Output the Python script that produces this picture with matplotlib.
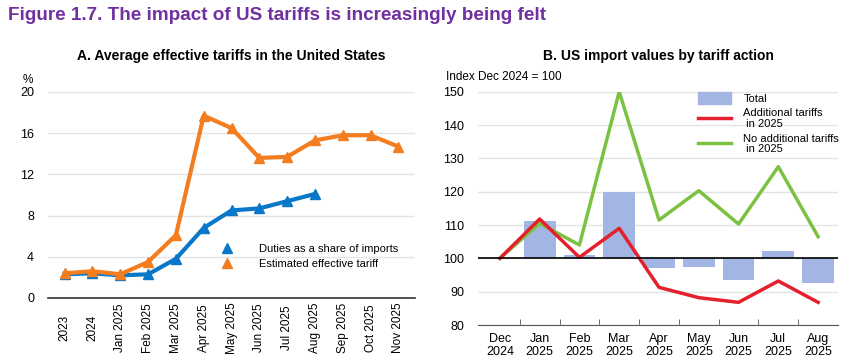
import matplotlib.pyplot as plt
import matplotlib.patches as mpatches
from matplotlib.lines import Line2D
import numpy as np

# Panel A data
months_a = ['2023', '2024', 'Jan 2025', 'Feb 2025', 'Mar 2025', 'Apr 2025', 'May 2025',
            'Jun 2025', 'Jul 2025', 'Aug 2025', 'Sep 2025', 'Oct 2025', 'Nov 2025']
duties_share = [2.3, 2.4, 2.2, 2.3, 3.8, 6.8, 8.5, 8.7, 9.4, 10.1]
effective_tariff = [2.4, 2.6, 2.3, 3.5, 6.1, 17.7, 16.5, 13.6, 13.7, 15.3, 15.8, 15.8, 14.7]

# Panel B data
months_b = ['Dec\n2024', 'Jan\n2025', 'Feb\n2025', 'Mar\n2025', 'Apr\n2025', 'May\n2025',
            'Jun\n2025', 'Jul\n2025', 'Aug\n2025']
total = [100, 111.2, 101.0, 120.0, 97.0, 97.3, 93.5, 102.3, 92.5]
additional = [100, 111.8, 100.3, 109.0, 91.3, 88.2, 86.8, 93.2, 86.8]
no_additional = [100, 110.5, 104.0, 150.0, 111.5, 120.3, 110.3, 127.5, 106.5]

BLUE = '#0A78C8'
ORANGE = '#F47D20'
RED = '#E3202B'
GREEN = '#7CC242'
BAR = '#A3B5E2'
GRID = '#E4E4E4'

plt.rcParams['font.family'] = ['Liberation Sans', 'DejaVu Sans']

fig = plt.figure(figsize=(8.5, 3.63), dpi=100)

fig.text(8 / 850, 1 - 16 / 363, 'Figure 1.7. The impact of US tariffs is increasingly being felt',
         color='#7030A0', fontsize=13.6, fontweight='bold', va='center', ha='left')

# ---- Panel A ----
ax1 = fig.add_axes([48 / 850, 1 - 298 / 363, 367 / 850, 206 / 363])
x_a = np.arange(len(months_a))
ax1.plot(x_a[:len(duties_share)], duties_share, color=BLUE, lw=3, marker='^', ms=7, zorder=3)
ax1.plot(x_a, effective_tariff, color=ORANGE, lw=3, marker='^', ms=7, zorder=4)
ax1.set_ylim(0, 20)
ax1.set_yticks([0, 4, 8, 12, 16, 20])
ax1.set_xlim(-0.6, 12.6)
ax1.set_xticks(x_a)
ax1.set_xticklabels(months_a, rotation=90, fontsize=8.5, va='center')
ax1.tick_params(axis='x', length=0, pad=21.6)
ax1.tick_params(axis='y', length=0, labelsize=9, pad=10)
ax1.grid(axis='y', color=GRID, lw=1)
ax1.set_axisbelow(True)
for s in ['top', 'right', 'left']:
    ax1.spines[s].set_visible(False)
ax1.spines['bottom'].set_color('#333333')
ax1.spines['bottom'].set_linewidth(1.2)

handles_a = [Line2D([], [], color=BLUE, marker='^', ls='none', ms=7),
             Line2D([], [], color=ORANGE, marker='^', ls='none', ms=7)]
ax1.legend(handles_a, ['Duties as a share of imports', 'Estimated effective tariff'],
           loc='upper left', bbox_to_anchor=(206 / 850, 1 - 234 / 363), bbox_transform=fig.transFigure,
           frameon=False, fontsize=8, handlelength=2, handletextpad=1.9, labelspacing=0.45)

fig.text(231 / 850, 1 - 56 / 363, 'A. Average effective tariffs in the United States',
         fontsize=10, fontweight='bold', ha='center', va='center')
fig.text(23 / 850, 1 - 80 / 363, '%', fontsize=8.5, ha='left', va='center')

# ---- Panel B ----
ax2 = fig.add_axes([478 / 850, 1 - 325 / 363, 360 / 850, 233.3 / 363])
x_b = np.arange(len(months_b))
bar_vals = np.array(total) - 100
ax2.bar(x_b[1:], bar_vals[1:], bottom=100, width=0.8, color=BAR, zorder=2)
ax2.plot(x_b, additional, color=RED, lw=2.5, zorder=4)
ax2.plot(x_b, no_additional, color=GREEN, lw=2.5, zorder=3)
ax2.axhline(100, color='black', lw=1.2, zorder=5)
ax2.set_ylim(80, 150)
ax2.set_yticks(range(80, 151, 10))
ax2.set_xlim(-0.55, 8.5)
ax2.set_xticks(x_b)
ax2.set_xticklabels(months_b, fontsize=9, linespacing=1.1)
ax2.set_xticks(x_b[:-1] + 0.5, minor=True)
ax2.tick_params(axis='x', which='major', length=0, pad=6)
ax2.tick_params(axis='x', which='minor', length=4, direction='in', color='#555555')
ax2.tick_params(axis='y', length=0, labelsize=9, pad=10)
ax2.grid(axis='y', color=GRID, lw=1)
ax2.set_axisbelow(True)
for s in ['top', 'right', 'left']:
    ax2.spines[s].set_visible(False)
ax2.spines['bottom'].set_color('#555555')

handles_b = [mpatches.Patch(color=BAR),
             Line2D([], [], color=RED, lw=2.5),
             Line2D([], [], color=GREEN, lw=2.5)]
leg_b = ax2.legend(handles_b, ['Total', 'Additional tariffs\n in 2025', 'No additional tariffs\n in 2025'],
                   loc='upper left', bbox_to_anchor=(690 / 850, 1 - 84 / 363), bbox_transform=fig.transFigure,
                   frameon=False, fontsize=8, handlelength=3, handleheight=1.3, handletextpad=1.1,
                   labelspacing=0.4, borderpad=0.2)
for t in leg_b.get_texts():
    t.set_linespacing(1.1)

fig.text(658 / 850, 1 - 56 / 363, 'B. US import values by tariff action',
         fontsize=10, fontweight='bold', ha='center', va='center')
fig.text(446 / 850, 1 - 77 / 363, 'Index Dec 2024 = 100', fontsize=8.5, ha='left', va='center')

fig.savefig('out.png', dpi=100)
